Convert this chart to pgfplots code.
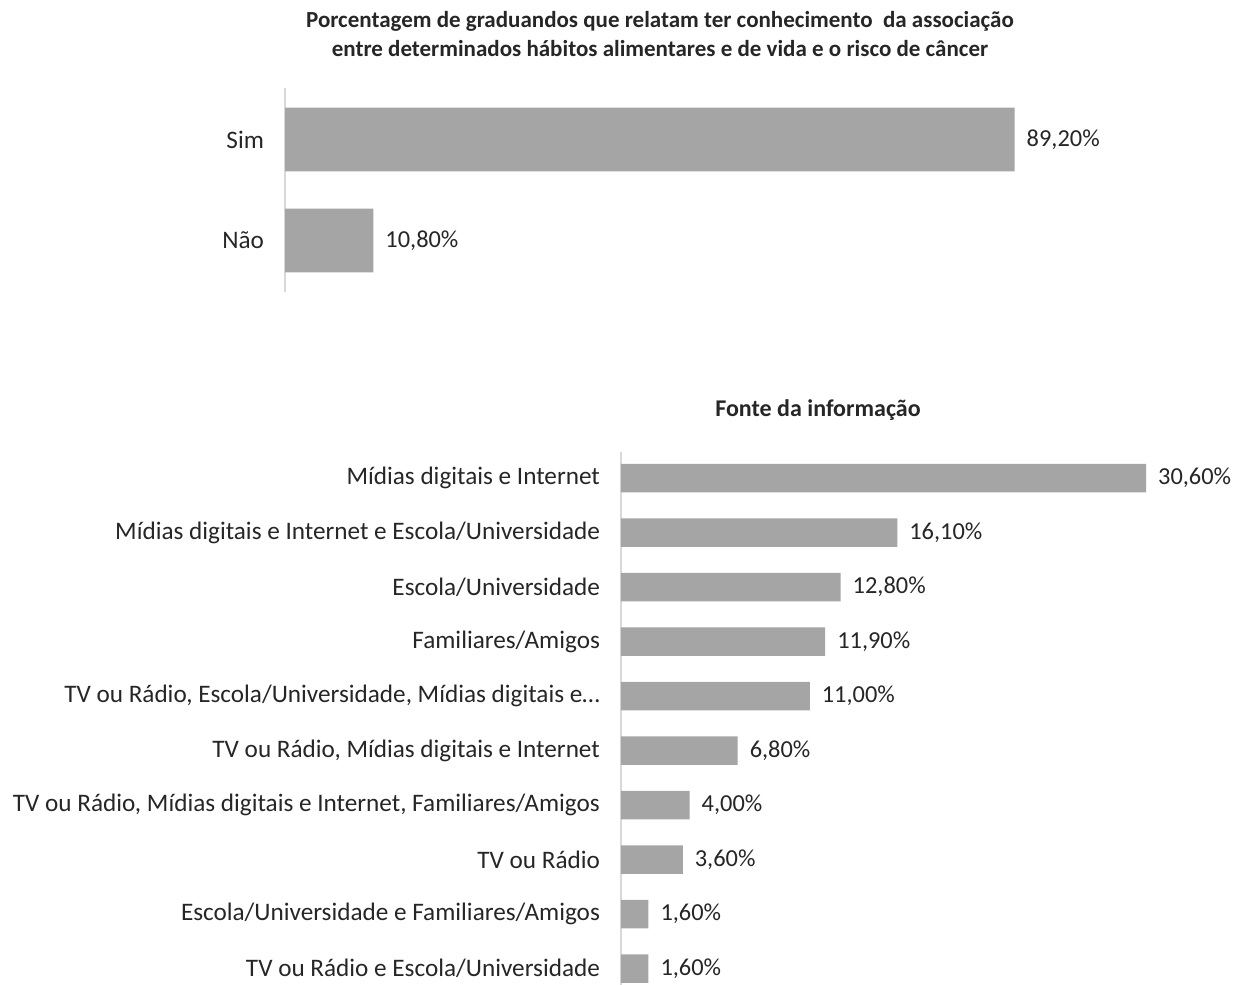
\documentclass[border=0pt]{standalone}
\usepackage{pgfplots}
\pgfplotsset{compat=1.18}
\usepackage{fontspec}
\setmainfont{Carlito}
\definecolor{barc}{HTML}{A5A5A5}
\definecolor{axc}{HTML}{D9D9D9}
\definecolor{txt}{HTML}{262626}
\begin{document}
\begin{tikzpicture}
\path[use as bounding box] (0pt,0pt) rectangle (621.5pt,492.5pt);
\pgfplotsset{
  mybars/.style={
    xbar, scale only axis,
    axis x line=none, axis y line*=left,
    y axis line style={draw=axc, line width=0.8pt},
    y dir=reverse, xmin=0, ytick=data,
    major tick length=0pt, ytick style={draw=none},
    tick label style={font=\fontsize{12.6}{14}\selectfont, text=txt},
    yticklabel style={xshift=-7pt},
    nodes near coords={\pgfmathprintnumber[fixed,fixed zerofill,precision=2,use comma]{\pgfplotspointmeta}\%},
    nodes near coords style={font=\fontsize{12.2}{14}\selectfont, text=txt, anchor=west, xshift=2.5pt},
    /pgf/number format/assume math mode=true,
    clip=false,
  }
}
\begin{axis}[mybars,
  at={(142.5pt,346.5pt)}, anchor=south west,
  width=409pt, height=102pt,
  xmax=100, ymin=-0.51, ymax=1.51,
  bar width=0.63,
  yticklabels={Sim, Não},
]
\addplot[fill=barc, draw=none] coordinates {(89.2,0) (10.8,1)};
\end{axis}
\begin{axis}[mybars,
  at={(310.5pt,0pt)}, anchor=south west,
  width=300.3pt, height=266.5pt,
  xmax=35, ymin=-0.48, ymax=9.3,
  bar width=0.52,
  yticklabels={Mídias digitais e Internet,
    Mídias digitais e Internet e Escola/Universidade,
    Escola/Universidade,
    Familiares/Amigos,
    {TV ou Rádio, Escola/Universidade, Mídias digitais e…},
    {TV ou Rádio, Mídias digitais e Internet},
    {TV ou Rádio, Mídias digitais e Internet, Familiares/Amigos},
    TV ou Rádio,
    Escola/Universidade e Familiares/Amigos,
    TV ou Rádio e Escola/Universidade},
]
\addplot[fill=barc, draw=none] coordinates {(30.6,0) (16.1,1) (12.8,2) (11.9,3) (11.0,4) (6.8,5) (4.0,6) (3.6,7) (1.6,8) (1.6,9)};
\end{axis}
\node[font=\bfseries\fontsize{11.5}{14.5}\selectfont, text=txt, align=center] at (330pt,475.25pt)
  {Porcentagem de graduandos que relatam ter conhecimento\ \ da associação\\entre determinados hábitos alimentares e de vida e o risco de câncer};
\node[font=\bfseries\fontsize{12}{14}\selectfont, text=txt] at (409pt,287.5pt) {Fonte da informação};
\end{tikzpicture}
\end{document}
